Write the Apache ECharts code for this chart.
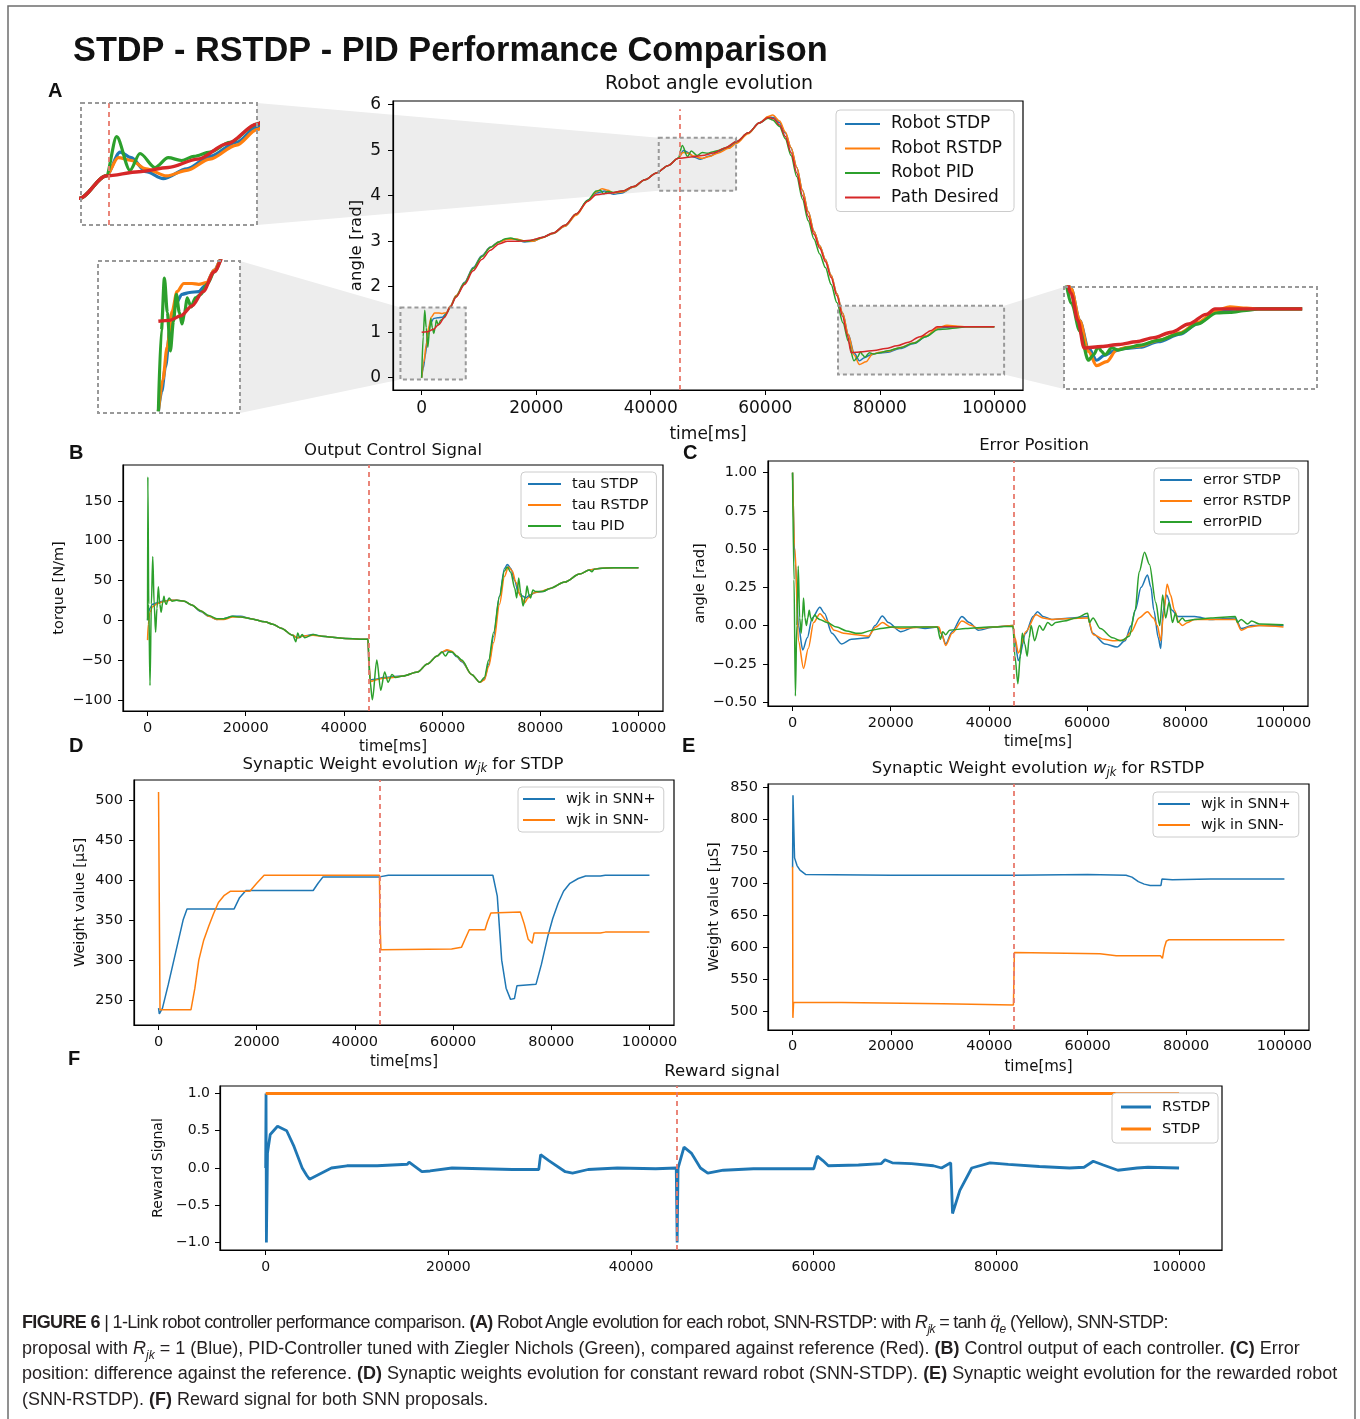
<!DOCTYPE html>
<html><head><meta charset="utf-8">
<script src="https://cdn.jsdelivr.net/npm/echarts@6/dist/echarts.min.js"></script>
<style>
html,body{margin:0;padding:0;background:#fff;}
#chart{position:absolute;left:0;top:0;width:1360px;height:1419px;}
#caption{position:absolute;left:22px;top:1310px;font-family:"Liberation Sans",Arial,sans-serif;font-size:18px;line-height:25.5px;color:#231f20;white-space:nowrap;}
#caption sub{font-size:12px;line-height:0;}
#caption .l1{letter-spacing:-0.65px;}
</style></head><body>
<div id="chart"></div>
<div id="caption">
<span class="l1"><b>FIGURE 6</b> | 1-Link robot controller performance comparison. <b>(A)</b> Robot Angle evolution for each robot, SNN-RSTDP: with <i>R<sub>jk</sub></i> = tanh <i>q̈<sub>e</sub></i> (Yellow), SNN-STDP:</span><br>
<span>proposal with <i>R<sub>jk</sub></i> = 1 (Blue), PID-Controller tuned with Ziegler Nichols (Green), compared against reference (Red). <b>(B)</b> Control output of each controller. <b>(C)</b> Error</span><br>
<span>position: difference against the reference. <b>(D)</b> Synaptic weights evolution for constant reward robot (SNN-STDP). <b>(E)</b> Synaptic weight evolution for the rewarded robot</span><br>
<span>(SNN-RSTDP). <b>(F)</b> Reward signal for both SNN proposals.</span>
</div>
<script>
// ---------------- DATA ----------------
const timeTicks = [0, 20000, 40000, 60000, 80000, 100000];
const angleTicks = [0, 1, 2, 3, 4, 5, 6];
const torqueTicks = [-100, -50, 0, 50, 100, 150];
const errorTicks = [-0.5, -0.25, 0, 0.25, 0.5, 0.75, 1.0];
const weightTicksSTDP = [250, 300, 350, 400, 450, 500];
const weightTicksRSTDP = [500, 550, 600, 650, 700, 750, 800, 850];
const rewardTicks = [-1.0, -0.5, 0.0, 0.5, 1.0];
const switchTime = 45000;

// Panel A : robot angle [rad] vs time [ms]
const anglePath = [[0,1.0],[1000,1.01],[2000,1.06],[3000,1.17],[4000,1.33],[5000,1.55],[6000,1.77],[7500,2.05],[9000,2.35],[10500,2.6],[12000,2.8],[13500,2.94],[15000,3.0],[17000,3.0],[19000,3.02],[21000,3.08],[23000,3.18],[25000,3.35],[27000,3.6],[29000,3.88],[30500,4.02],[33000,4.06],[35000,4.1],[37000,4.2],[39000,4.35],[41000,4.5],[43000,4.66],[44800,4.82],[47000,4.85],[49000,4.88],[51000,4.94],[53000,5.05],[55000,5.19],[57000,5.38],[59000,5.6],[60500,5.72],[61500,5.69],[62500,5.55],[63500,5.3],[64500,4.95],[65500,4.5],[66500,4.0],[67500,3.55],[68500,3.15],[69500,2.85],[70500,2.55],[71500,2.2],[72500,1.8],[73500,1.35],[74300,0.95],[75000,0.55],[77000,0.57],[79000,0.6],[81000,0.64],[83000,0.7],[85000,0.78],[87000,0.9],[89000,1.04],[90000,1.12],[100000,1.12]];
const angleSTDP = [[0,0],[300,0.22],[630,0.49],[1070,0.93],[1520,1.19],[2120,1.30],[2800,1.32],[3610,1.33],[4200,1.40],[5000,1.57],[6000,1.8],[7500,2.1],[9000,2.42],[10500,2.68],[12000,2.87],[13500,2.99],[15000,3.05],[16500,3.04],[18000,2.98],[19500,3.0],[21000,3.08],[23000,3.17],[25000,3.33],[27000,3.58],[29000,3.9],[30500,4.06],[32000,4.1],[33500,4.03],[35000,4.06],[37000,4.19],[39000,4.35],[41000,4.5],[43000,4.66],[44800,4.82],[45740,4.99],[46500,4.95],[47500,4.85],[48660,4.80],[50250,4.87],[51820,4.96],[53620,5.06],[55000,5.17],[57000,5.37],[59000,5.6],[60500,5.73],[61500,5.72],[62500,5.6],[63500,5.38],[64500,5.05],[65500,4.62],[66500,4.12],[67500,3.65],[68500,3.22],[69500,2.9],[70500,2.6],[71500,2.25],[72500,1.85],[73500,1.42],[74500,0.95],[75500,0.55],[76450,0.37],[77300,0.44],[78350,0.50],[79500,0.54],[81410,0.56],[83500,0.64],[86000,0.75],[88000,0.9],[90200,1.09],[91500,1.11],[93000,1.12],[100000,1.12]];
const angleRSTDP = [[0,0],[400,0.35],[780,0.71],[1230,1.11],[1670,1.33],[2270,1.42],[3000,1.42],[3610,1.41],[4300,1.43],[5000,1.57],[6000,1.8],[7500,2.08],[9000,2.4],[10500,2.66],[12000,2.86],[13500,2.98],[15000,3.04],[16500,3.05],[18000,3.0],[19500,3.0],[21000,3.07],[23000,3.17],[25000,3.33],[27000,3.57],[29000,3.88],[30500,4.08],[31500,4.15],[32500,4.12],[33500,4.06],[35000,4.08],[37000,4.19],[39000,4.35],[41000,4.5],[43000,4.66],[44800,4.82],[45620,4.95],[46500,4.93],[47500,4.87],[48890,4.82],[50250,4.86],[51820,4.94],[53620,5.04],[55000,5.15],[57000,5.36],[59000,5.6],[60500,5.74],[61300,5.77],[62500,5.64],[63500,5.4],[64500,5.06],[65500,4.62],[66500,4.12],[67500,3.65],[68500,3.22],[69500,2.9],[70500,2.6],[71500,2.25],[72500,1.85],[73500,1.42],[74500,0.95],[75500,0.5],[76450,0.29],[77590,0.35],[78740,0.52],[80000,0.56],[81410,0.58],[83500,0.66],[86000,0.77],[88000,0.92],[90200,1.10],[91720,1.15],[93640,1.13],[95000,1.12],[100000,1.12]];
const anglePID = [[0,0],[270,0.9],[540,1.48],[800,1.1],[1070,0.67],[1350,1.0],[1610,1.30],[1870,1.1],[2120,0.97],[2350,1.1],[2570,1.26],[2930,1.16],[3310,1.26],[3800,1.3],[4400,1.42],[5000,1.55],[6000,1.78],[7500,2.08],[9000,2.4],[10500,2.66],[12000,2.86],[13500,2.98],[14500,3.05],[15500,3.07],[17000,3.02],[18500,3.0],[20000,3.04],[21000,3.08],[23000,3.18],[25000,3.35],[27000,3.6],[29000,3.9],[30500,4.1],[31200,4.12],[31800,4.04],[32500,4.09],[33500,4.07],[35000,4.1],[37000,4.2],[39000,4.35],[41000,4.5],[43000,4.66],[44800,4.82],[45510,5.10],[46410,4.86],[47090,4.98],[48100,4.88],[49000,4.95],[49910,4.93],[50740,4.96],[51820,4.99],[53170,5.06],[55000,5.19],[57000,5.38],[59000,5.6],[60500,5.7],[61300,5.66],[62500,5.52],[63500,5.25],[64500,4.88],[65500,4.42],[66500,3.92],[67500,3.45],[68500,3.05],[69500,2.72],[70500,2.42],[71500,2.05],[72500,1.65],[73580,1.2],[74500,0.8],[75490,0.37],[76100,0.45],[76630,0.57],[77000,0.5],[77400,0.45],[78170,0.55],[78920,0.52],[80000,0.55],[81410,0.59],[83500,0.66],[86000,0.76],[88000,0.9],[90200,1.06],[91720,1.07],[93640,1.10],[95000,1.12],[100000,1.12]];

// Panel B : torque [N/m]
const tauSTDP = [[0,0],[150,10],[500,15],[1000,20],[2000,22],[3000,24],[4500,25],[6000,25],[7500,24],[9000,19],[10800,11],[12500,5],[14100,1],[15500,2],[17350,5],[19000,5],[21000,2],[23900,-2],[25500,-5],[27200,-10],[29600,-19],[30500,-22],[31500,-20],[33700,-18],[35500,-20],[37000,-21],[40300,-23],[44900,-24],[45100,-60],[45400,-75],[46500,-74],[48000,-72],[50000,-71],[52000,-70],[55000,-65],[57000,-55],[59000,-45],[60000,-40],[61000,-38],[62000,-40],[63000,-46],[64000,-52],[66000,-68],[67700,-78],[68600,-74],[69500,-55],[70500,-20],[71700,30],[72700,65],[73300,70],[74000,65],[74800,50],[75500,35],[76500,30],[77000,28],[78000,32],[79000,35],[80500,36],[82000,40],[85000,48],[88000,58],[90000,63],[92000,65],[95000,66],[100000,66]];
const tauRSTDP = [[0,-25],[150,-5],[500,10],[1000,17],[2000,21],[3000,23],[4500,25],[6000,25],[7500,24],[9000,19],[10800,12],[12500,5],[14100,1],[15500,1],[17350,4],[19000,4],[21000,2],[23900,-2],[25500,-5],[27200,-10],[29600,-19],[30500,-22],[31500,-20],[33700,-19],[35500,-20],[37000,-21],[40300,-23],[44900,-24],[45100,-55],[45400,-77],[46500,-75],[48000,-73],[50000,-72],[52000,-70],[55000,-65],[57000,-55],[59000,-45],[60000,-40],[61000,-37],[62000,-39],[63000,-45],[64000,-51],[66000,-68],[67700,-78],[68600,-75],[69500,-58],[70500,-28],[71700,20],[72700,55],[73500,67],[74300,62],[75000,48],[76000,30],[76800,22],[77500,28],[78500,34],[80000,36],[82000,40],[85000,48],[88000,58],[90000,63],[92000,65],[95000,66],[100000,66]];
const tauPID = [[0,0],[60,180],[250,20],[500,-82],[780,20],[1060,80],[1350,20],[1640,-15],[1920,15],[2200,42],[2500,20],[2780,10],[3070,22],[3350,30],[3600,22],[3850,20],[4100,25],[4400,28],[5000,24],[5900,25],[7500,24],[9000,19],[10800,12],[12500,6],[14100,2],[15500,2],[17350,5],[19000,4],[21000,2],[23900,-2],[25500,-5],[27200,-10],[29600,-19],[30200,-27],[30600,-16],[31000,-22],[31500,-18],[32000,-22],[33700,-18],[35500,-20],[37000,-21],[40300,-23],[44900,-24],[45050,-40],[45300,-75],[45800,-100],[46700,-50],[47500,-88],[48300,-65],[49000,-78],[49800,-68],[50500,-72],[52000,-70],[55000,-65],[57000,-55],[59000,-45],[60000,-40],[60700,-45],[61300,-40],[62000,-40],[63000,-45],[64000,-50],[66000,-68],[67700,-78],[68600,-72],[69500,-50],[70500,-15],[71700,30],[72700,62],[73300,67],[74000,60],[74800,40],[75200,28],[75600,53],[76000,35],[76500,18],[77000,30],[77300,43],[77700,32],[78000,28],[78500,38],[79000,36],[80500,36],[82000,40],[85000,48],[88000,58],[90000,63],[90500,61],[91000,64],[92000,65],[95000,66],[100000,66]];

// Panel C : position error [rad]
const errSTDP = [[0,1.0],[600,0.4],[1200,0.0],[2080,-0.16],[3000,-0.08],[4000,0.05],[5570,0.12],[6500,0.08],[8000,-0.05],[10000,-0.12],[12000,-0.09],[15400,-0.08],[16800,0.0],[18300,0.063],[19500,0.02],[22000,-0.04],[24900,-0.01],[27000,-0.02],[29500,-0.01],[30300,-0.05],[31200,-0.12],[32500,-0.04],[34500,0.06],[36000,0.02],[37800,-0.03],[41100,-0.01],[44900,0.0],[45300,-0.1],[46000,-0.23],[47500,-0.05],[49000,0.06],[49900,0.09],[51000,0.06],[52800,0.04],[56900,0.05],[60100,0.06],[61100,-0.05],[63600,-0.12],[66100,-0.14],[67700,-0.1],[69000,0.0],[69800,0.1],[71000,0.25],[72300,0.33],[73000,0.25],[73600,0.1],[74500,-0.08],[75000,-0.15],[75500,0.1],[76200,0.2],[77300,0.1],[78500,0.06],[81900,0.06],[85200,0.04],[90200,0.05],[91400,-0.02],[93500,0.0],[100000,0.0]];
const errRSTDP = [[0,1.0],[500,0.5],[1200,-0.1],[2240,-0.28],[3200,-0.15],[4300,0.02],[5570,0.078],[7000,0.03],[8500,-0.03],[10400,-0.05],[13000,-0.06],[15400,-0.07],[17000,-0.01],[18300,0.02],[20000,-0.01],[22000,-0.02],[27000,-0.01],[29800,-0.01],[30400,-0.06],[31200,-0.13],[32500,-0.05],[34500,0.03],[36500,0.0],[37800,-0.02],[41000,-0.01],[44900,0.0],[45300,-0.08],[46000,-0.18],[47500,-0.04],[49600,0.07],[51000,0.05],[52800,0.04],[56000,0.045],[60100,0.05],[61300,-0.06],[63500,-0.09],[65200,-0.1],[67500,-0.095],[69000,-0.04],[70600,0.05],[72300,0.09],[73500,0.05],[74300,0.0],[75000,-0.1],[75500,0.05],[76300,0.27],[77000,0.2],[77800,0.1],[78700,0.02],[79400,0.0],[80500,0.02],[81900,0.04],[85000,0.04],[90200,0.04],[91400,-0.03],[93000,-0.01],[95100,0.0],[100000,-0.01]];
const errPID = [[0,1.0],[300,0.3],[580,-0.46],[870,0.0],[1160,0.39],[1450,0.05],[1750,-0.05],[2000,0.05],[2240,0.18],[2530,0.05],[2830,0.0],[3100,0.05],[3400,0.1],[3700,0.05],[4000,0.03],[4300,0.06],[4570,0.07],[5000,0.05],[5500,0.04],[7000,0.02],[9000,-0.01],[11000,-0.035],[12900,-0.05],[14000,-0.05],[16200,-0.03],[18000,-0.02],[20400,-0.01],[25000,-0.01],[29500,-0.01],[30100,-0.09],[30600,-0.04],[31200,-0.06],[32000,-0.03],[35300,-0.02],[40000,-0.01],[44900,-0.005],[45300,-0.2],[45900,-0.38],[46400,-0.2],[46800,-0.05],[47300,-0.12],[47800,-0.2],[48200,-0.08],[48600,0.0],[49300,-0.1],[50300,0.0],[51000,-0.03],[52000,0.02],[52800,0.0],[53600,0.02],[55300,0.03],[57800,0.05],[60100,0.08],[60500,0.02],[61200,0.05],[62700,-0.02],[65200,-0.08],[66900,-0.1],[68600,-0.07],[69800,0.1],[70600,0.35],[71700,0.48],[72700,0.4],[74000,0.15],[74800,0.0],[75400,0.2],[76000,0.05],[76700,0.15],[77400,0.02],[78000,0.08],[78500,0.02],[79400,0.05],[80000,0.03],[81900,0.04],[85200,0.05],[90200,0.06],[90600,0.02],[91400,0.04],[92700,0.01],[93500,0.03],[95100,0.01],[100000,0.005]];

// Panel D : synaptic weights STDP [uS]
const wSTDPplus = [[0,240],[160,233],[800,240],[2000,270],[3500,310],[5000,350],[5800,364],[15400,364],[16500,378],[17800,387],[31500,387],[32500,396],[33500,404],[45000,404],[46800,406],[68100,406],[69000,380],[69900,300],[70800,265],[71700,251],[72500,252],[73000,268],[73200,270],[76900,270],[78000,295],[79300,330],[80300,352],[81400,371],[82500,386],[83800,396],[85500,402],[87000,405],[90000,405],[91000,406],[100000,406]];
const wSTDPminus = [[0,510],[150,510],[300,238],[6600,238],[7400,265],[8200,300],[9200,325],[10200,342],[11200,358],[12200,372],[13400,381],[14600,386],[18600,386],[20000,396],[21500,406],[45000,406],[45100,350],[45300,313],[59700,314],[61700,316],[62500,327],[63300,338],[66500,338],[67000,348],[67700,359],[73700,360],[74500,345],[75300,326],[76100,321],[76500,334],[90000,334],[91000,335],[100000,335]];

// Panel E : synaptic weights RSTDP [uS]
const wRSTDPplus = [[0,725],[80,838],[400,740],[900,728],[1500,721],[2700,714],[20000,713],[45000,713],[60000,714],[67800,713],[69000,710],[70300,703],[71500,699],[72700,697],[74900,697],[75100,707],[77200,706],[85000,707],[100000,707]];
const wRSTDPminus = [[0,726],[60,490],[200,514],[10000,514],[30500,512],[44900,510],[45100,592],[62500,590],[65800,587],[74800,587],[75200,583],[75600,600],[76000,610],[76500,612],[100000,612]];

// Panel F : reward signal
const rewardRSTDP = [[0,0],[40,1.0],[80,-1.0],[200,0.2],[500,0.45],[1300,0.56],[2300,0.5],[3100,0.29],[4000,0.0],[4500,-0.1],[4800,-0.15],[5600,-0.1],[6400,-0.05],[7200,0.0],[8900,0.03],[12200,0.03],[15500,0.05],[15700,0.08],[17100,-0.05],[18000,-0.04],[20400,0.0],[23700,-0.01],[27000,-0.02],[29900,-0.02],[30100,0.18],[31000,0.1],[32800,-0.05],[33600,-0.07],[35300,-0.02],[38500,0.0],[42700,-0.01],[44950,0.0],[45050,-1.0],[45150,0.0],[45800,0.28],[46600,0.2],[47600,0.0],[48400,-0.07],[50100,-0.03],[53400,-0.01],[60000,-0.01],[60400,0.16],[61000,0.1],[61600,0.03],[64900,0.04],[67400,0.06],[67800,0.11],[68600,0.07],[70700,0.06],[73100,0.03],[74000,0.0],[75000,0.07],[75200,-0.61],[76000,-0.3],[77300,0.0],[79300,0.07],[81300,0.05],[84700,0.02],[88000,0.0],[89600,0.01],[90600,0.09],[91700,0.04],[93300,-0.03],[95400,0.0],[96600,0.01],[100000,0.0]];
const rewardSTDP = [[0,1.0],[100000,1.0]];

// zoom regions (data coords) in panel A, and inset view ranges
const zoomBoxes = [
  {x:[41400,54900], y:[4.11,5.27]},
  {x:[-3700,7700], y:[-0.04,1.54]},
  {x:[72700,101700], y:[0.07,1.58]}
];
const insetRanges = [
  {x:[43100,55000], y:[4.47,5.34]},
  {x:[-5400,7300], y:[-0.02,1.67]},
  {x:[72700,101700], y:[-0.05,1.44]}
];

// ---------------- LAYOUT / STYLE ----------------
const FONT = 'DejaVu Sans';
const C_BLUE = '#1f77b4', C_ORANGE = '#ff7f0e', C_GREEN = '#2ca02c', C_RED = '#d62728';
const DASH_RED = '#e8796c';
const grids = [
  {left:393, top:101, width:630, height:289},  // 0 A
  {left:81,  top:103, width:176, height:122},  // 1 inset 1
  {left:98,  top:261, width:142, height:152},  // 2 inset 2
  {left:1064,top:287, width:253, height:102},  // 3 inset 3
  {left:123, top:465, width:540, height:246},  // 4 B
  {left:768, top:461, width:540, height:245},  // 5 C
  {left:134, top:780, width:540, height:245},  // 6 D
  {left:768, top:784, width:541, height:246},  // 7 E
  {left:220, top:1086,width:1002,height:164}   // 8 F
];
const minus = s => String(s).replace('-', '\u2212');

function axis(gi, min, max, ticks, o, pos) {
  o = o || {};
  if (o.hidden) {
    return {type:'value', gridIndex:gi, min, max, show:false, splitLine:{show:false}, axisLine:{onZero:false}};
  }
  return {
    type:'value', gridIndex:gi, min, max, position:pos,
    axisLine:{show:true, onZero:false, lineStyle:{color:'#000', width:1.2}}, splitLine:{show:false},
    axisTick:{show:true, inside:false, length:5, lineStyle:{color:'#000', width:1}, customValues:ticks},
    axisLabel:{show:true, customValues:ticks, fontFamily:FONT, fontSize:o.fs||14.5, color:'#111', margin:o.margin||10,
      formatter: o.fmt || (v => minus(v))},
    name:o.name||'', nameLocation:'middle', nameGap:o.gap||25,
    nameTextStyle:{fontFamily:FONT, fontSize:o.nfs||15, color:'#111'}
  };
}
const X = (gi, min, max, ticks, o) => axis(gi, min, max, ticks, o, 'bottom');
const Y = (gi, min, max, ticks, o) => axis(gi, min, max, ticks, o, 'left');

const xAxes = [
  X(0, -5000, 105000, timeTicks, {fs:17, name:'time[ms]', nfs:17, gap:36, margin:10}),
  X(1, insetRanges[0].x[0], insetRanges[0].x[1], [], {hidden:true}),
  X(2, insetRanges[1].x[0], insetRanges[1].x[1], [], {hidden:true}),
  X(3, insetRanges[2].x[0], insetRanges[2].x[1], [], {hidden:true}),
  X(4, -5000, 105000, timeTicks, {name:'time[ms]', gap:29}),
  X(5, -5000, 105000, timeTicks, {name:'time[ms]', gap:29}),
  X(6, -5000, 105000, timeTicks, {name:'time[ms]', gap:30}),
  X(7, -5000, 105000, timeTicks, {name:'time[ms]', gap:30, margin:9}),
  X(8, -5000, 104700, timeTicks, {fs:14, margin:10})
];
const yAxes = [
  Y(0, -0.27, 6.08, angleTicks, {fs:17, name:'angle [rad]', nfs:16.5, gap:28, margin:12}),
  Y(1, insetRanges[0].y[0], insetRanges[0].y[1], [], {hidden:true}),
  Y(2, insetRanges[1].y[0], insetRanges[1].y[1], [], {hidden:true}),
  Y(3, insetRanges[2].y[0], insetRanges[2].y[1], [], {hidden:true}),
  Y(4, -114, 195, torqueTicks, {name:'torque [N/m]', nfs:14.5, gap:56, margin:11}),
  Y(5, -0.526, 1.076, errorTicks, {name:'angle [rad]', nfs:14.5, gap:60, margin:11, fmt: v => minus(v.toFixed(2))}),
  Y(6, 219, 525, weightTicksSTDP, {name:'Weight value [\u03bcS]', nfs:14.5, gap:46, margin:11}),
  Y(7, 471, 855.5, weightTicksRSTDP, {name:'Weight value [\u03bcS]', nfs:14.5, gap:46, margin:10}),
  Y(8, -1.1, 1.1, rewardTicks, {fs:14, name:'Reward Signal', nfs:14, gap:52, margin:10, fmt: v => minus(v.toFixed(1))})
];

function line(name, data, color, gi, width, extra) {
  return Object.assign({
    type:'line', name, data, xAxisIndex:gi, yAxisIndex:gi,
    symbol:'none', showSymbol:false, clip:true, animation:false,
    lineStyle:{color, width}, itemStyle:{color},
    emphasis:{disabled:true}, smooth:0
  }, extra || {});
}
function vline(full, yr) {
  return {
    silent:true, symbol:['none','none'], animation:false,
    label:{show:false},
    lineStyle:{type:[5,4], color:DASH_RED, width:1.8},
    data: full ? [{xAxis:switchTime}] : [[{coord:[switchTime, yr[0]]},{coord:[switchTime, yr[1]]}]]
  };
}
const sm = {smooth:0.3, smoothMonotone:'x'};

const series = [
  line('Robot STDP', angleSTDP, C_BLUE, 0, 1.5, Object.assign({markLine:vline(false,[-0.27,5.9])}, sm)),
  line('Robot RSTDP', angleRSTDP, C_ORANGE, 0, 1.5, sm),
  line('Robot PID', anglePID, C_GREEN, 0, 1.5, sm),
  line('Path Desired', anglePath, C_RED, 0, 1.5, sm),
  line('i1 STDP', angleSTDP, C_BLUE, 1, 3.2, Object.assign({markLine:vline(true)}, sm)),
  line('i1 RSTDP', angleRSTDP, C_ORANGE, 1, 3.2, sm),
  line('i1 PID', anglePID, C_GREEN, 1, 3.2, sm),
  line('i1 Path', anglePath, C_RED, 1, 3.4, sm),
  line('i2 STDP', angleSTDP, C_BLUE, 2, 3.2, sm),
  line('i2 RSTDP', angleRSTDP, C_ORANGE, 2, 3.2, sm),
  line('i2 PID', anglePID, C_GREEN, 2, 3.2, sm),
  line('i2 Path', anglePath, C_RED, 2, 3.4, sm),
  line('i3 STDP', angleSTDP, C_BLUE, 3, 3.2, sm),
  line('i3 RSTDP', angleRSTDP, C_ORANGE, 3, 3.2, sm),
  line('i3 PID', anglePID, C_GREEN, 3, 3.2, sm),
  line('i3 Path', anglePath, C_RED, 3, 3.4, sm),
  line('tau STDP', tauSTDP, C_BLUE, 4, 1.5, Object.assign({markLine:vline(true)}, sm)),
  line('tau RSTDP', tauRSTDP, C_ORANGE, 4, 1.5, sm),
  line('tau PID', tauPID, C_GREEN, 4, 1.5, sm),
  line('error STDP', errSTDP, C_BLUE, 5, 1.5, Object.assign({markLine:vline(true)}, sm)),
  line('error RSTDP', errRSTDP, C_ORANGE, 5, 1.5, sm),
  line('errorPID', errPID, C_GREEN, 5, 1.5, sm),
  line('wjk in SNN+', wSTDPplus, C_BLUE, 6, 1.5, {markLine:vline(true)}),
  line('wjk in SNN-', wSTDPminus, C_ORANGE, 6, 1.5),
  line('wjk in SNN+', wRSTDPplus, C_BLUE, 7, 1.5, {markLine:vline(true)}),
  line('wjk in SNN-', wRSTDPminus, C_ORANGE, 7, 1.5),
  line('RSTDP', rewardRSTDP, C_BLUE, 8, 2.8),
  line('STDP', rewardSTDP, C_ORANGE, 8, 3, {markLine:vline(true)})
];

function legend(names, left, top, fs, gap, lh, pad, iw, ih) {
  return {
    data:names, left, top, orient:'vertical', icon:'rect',
    itemWidth:iw||34, itemHeight:ih||2, itemGap:gap, padding:pad,
    borderColor:'#cccccc', borderWidth:1, borderRadius:4, backgroundColor:'#fff',
    selectedMode:false,
    textStyle:{fontFamily:FONT, fontSize:fs, color:'#111', lineHeight:lh, padding:[0,0,0,6]}
  };
}
const legends = [
  legend(['Robot STDP','Robot RSTDP','Robot PID','Path Desired'], 836, 110, 17, 4.5, 20, [4,12,4,9], 35),
  legend(['tau STDP','tau RSTDP','tau PID'], 521, 472, 14.5, 4, 17, [3.5,8,3.5,7], 33),
  legend(['error STDP','error RSTDP','errorPID'], 1154, 468, 14.5, 4, 17, [3.5,8,3.5,6], 32),
  legend(['wjk in SNN+','wjk in SNN-'], 518, 787, 14.5, 4, 17, [3.5,8,3.5,5], 32),
  legend(['wjk in SNN+','wjk in SNN-'], 1153, 792, 14.5, 4, 17, [3.5,8,3.5,5], 32),
  legend(['RSTDP','STDP'], 1112, 1093, 14.5, 4, 18, [5,8,5,9], 30, 3)
];

const chart = echarts.init(document.getElementById('chart'), null, {renderer:'canvas'});
chart.setOption({
  animation:false,
  grid: grids.map((g, i) => Object.assign({show: !(i>=1 && i<=3), borderColor:'#000', borderWidth:1.2, backgroundColor:'transparent', containLabel:false}, g)),
  xAxis: xAxes, yAxis: yAxes, legend: legends, series
});

// ---------- decorations computed from scales ----------
function txt(t, x, y, size, o) {
  o = o || {};
  return {type:'text', silent:true, z:50, style:Object.assign({
    text:t, x, y, fill:'#111', fontSize:size, fontFamily:o.ff||FONT, fontWeight:o.fw||'normal',
    textAlign:o.align||'center', textVerticalAlign:'middle'}, o.extra||{})};
}
function subTitle(prefix, suffix, x, y) {
  return {type:'text', silent:true, z:50, style:{
    text:'{n|'+prefix+'}{w|w}{s|jk}{n|'+suffix+'}', x, y, textAlign:'center', textVerticalAlign:'middle', fill:'#111',
    rich:{
      n:{fontSize:16.5, fontFamily:FONT, fill:'#111', lineHeight:20},
      w:{fontSize:16.5, fontFamily:FONT, fontStyle:'italic', fill:'#111', lineHeight:20},
      s:{fontSize:11.5, fontFamily:FONT, fontStyle:'italic', fill:'#111', lineHeight:6, verticalAlign:'bottom'}
    }}};
}

const graphic = [];
graphic.push({type:'rect', silent:true, z:0, shape:{x:8, y:6, width:1347, height:1440}, style:{fill:'none', stroke:'#6e6e6e', lineWidth:1.5}});
const BAND = '#ededed';
const insetG = [grids[1], grids[2], grids[3]];
zoomBoxes.forEach((b, i) => {
  const p1 = chart.convertToPixel({gridIndex:0}, [b.x[0], b.y[1]]);
  const p2 = chart.convertToPixel({gridIndex:0}, [b.x[1], b.y[0]]);
  const g = insetG[i];
  let pts;
  if (i < 2) {
    pts = [[g.left+g.width, g.top],[p1[0], p1[1]],[p1[0], p2[1]],[g.left+g.width, g.top+g.height]];
  } else {
    pts = [[p2[0], p1[1]],[g.left, g.top],[g.left, g.top+g.height],[p2[0], p2[1]]];
  }
  graphic.push({type:'polygon', silent:true, z:-1, shape:{points:pts}, style:{fill:BAND}});
  graphic.push({type:'rect', silent:true, z:-1, shape:{x:p1[0], y:p1[1], width:p2[0]-p1[0], height:p2[1]-p1[1]}, style:{fill:BAND}});
  graphic.push({type:'rect', silent:true, z:40, shape:{x:p1[0], y:p1[1], width:p2[0]-p1[0], height:p2[1]-p1[1]}, style:{fill:'none', stroke:'#999', lineWidth:2, lineDash:[4,3]}});
  graphic.push({type:'rect', silent:true, z:40, shape:{x:g.left, y:g.top, width:g.width, height:g.height}, style:{fill:'none', stroke:'#999', lineWidth:2, lineDash:[4,3]}});
});

graphic.push(txt('STDP - RSTDP - PID Performance Comparison', 73, 52, 34.3, {ff:'Liberation Sans', fw:'bold', align:'left'}));
graphic.push(txt('A', 48, 91, 20, {ff:'Liberation Sans', fw:'bold', align:'left'}));
graphic.push(txt('B', 69, 453, 20, {ff:'Liberation Sans', fw:'bold', align:'left'}));
graphic.push(txt('C', 683, 453, 20, {ff:'Liberation Sans', fw:'bold', align:'left'}));
graphic.push(txt('D', 69, 746, 20, {ff:'Liberation Sans', fw:'bold', align:'left'}));
graphic.push(txt('E', 682, 746, 20, {ff:'Liberation Sans', fw:'bold', align:'left'}));
graphic.push(txt('F', 68, 1059, 20, {ff:'Liberation Sans', fw:'bold', align:'left'}));
graphic.push(txt('Robot angle evolution', 709, 84, 19));
graphic.push(txt('Output Control Signal', 393, 451, 16.5));
graphic.push(txt('Error Position', 1034, 446, 16.5));
graphic.push(subTitle('Synaptic Weight evolution ', ' for STDP', 403, 765));
graphic.push(subTitle('Synaptic Weight evolution ', ' for RSTDP', 1038, 769));
graphic.push(txt('Reward signal', 722, 1072, 16.5));

chart.setOption({graphic});
</script>
</body></html>
